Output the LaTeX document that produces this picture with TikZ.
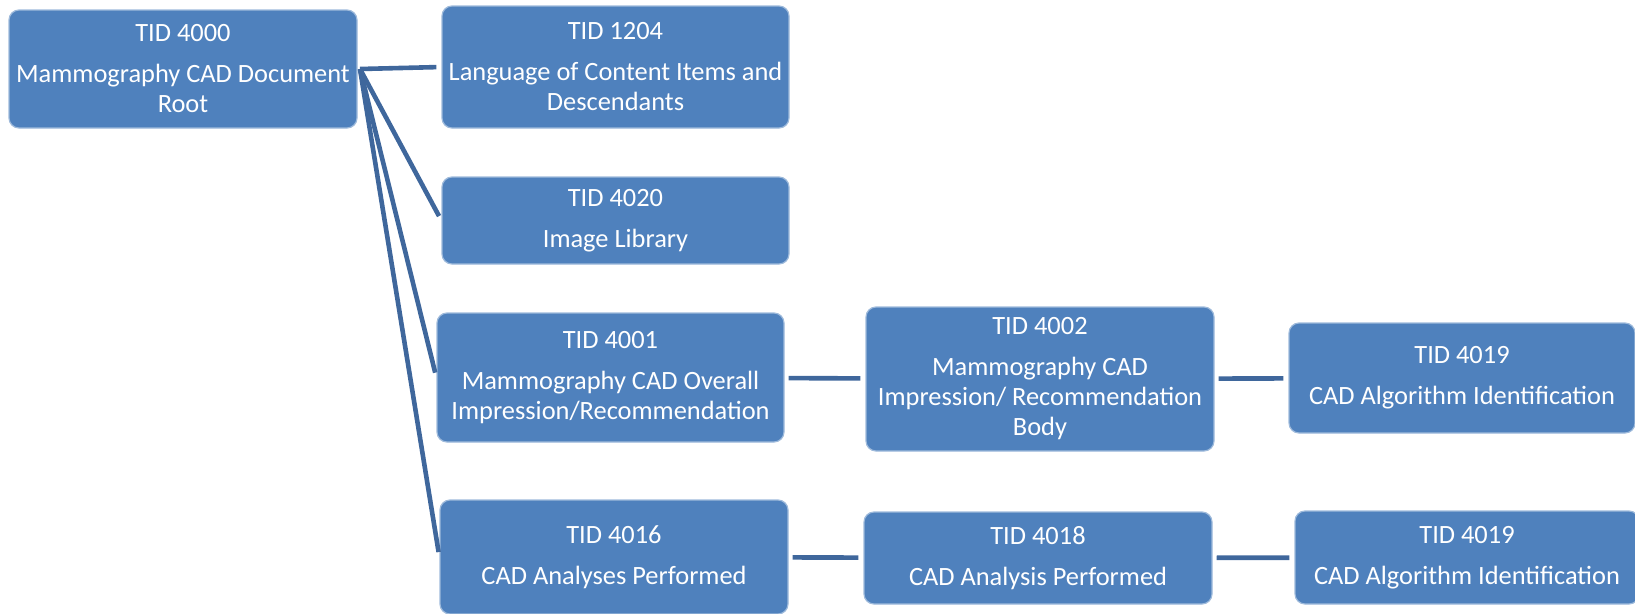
\documentclass[tikz,border=0pt]{standalone}
\usepackage{fontspec}
\setmainfont{Carlito}
\usetikzlibrary{positioning}
\definecolor{boxblue}{HTML}{4F81BD}
\definecolor{linkblue}{HTML}{3F679C}
\tikzset{
  tidbox/.style={rectangle, rounded corners=10pt, fill=boxblue, draw=boxblue!55!white,
    line width=1.2pt, text=white, align=center, inner sep=0pt,
    font=\fontsize{26.4}{30}\selectfont},
  link/.style={draw=linkblue, line width=4.6pt, shorten >=5pt, shorten <=4pt}
}
\begin{document}
\begin{tikzpicture}[x=1pt,y=-1pt]
\useasboundingbox (0,0) rectangle (1635,613);
\clip (0,0) rectangle (1635,613);

% Wurzel
\node[tidbox, minimum width=348pt, minimum height=118pt] (t4000) at (183,69)
  {TID 4000\\[11pt]Mammography CAD Document\\Root};
\coordinate (fan) at (360,69);

% erste Ebene
\node[tidbox, minimum width=347pt, minimum height=122pt] (t1204) at (615.5,67)
  {TID 1204\\[11pt]Language of Content Items and\\Descendants};
\node[tidbox, minimum width=347pt, minimum height=87pt] (t4020) at (615.5,220.5)
  {TID 4020\\[11pt]Image Library};
\node[tidbox, minimum width=347pt, minimum height=129pt] (t4001) at (610.5,377.5)
  {TID 4001\\[11pt]Mammography CAD Overall\\Impression/Recommendation};
\node[tidbox, minimum width=348pt, minimum height=114pt] (t4016) at (614,557)
  {TID 4016\\[11pt]CAD Analyses Performed};

% zweite Ebene
\node[tidbox, minimum width=348pt, minimum height=144pt] (t4002) at (1040,379)
  {TID 4002\\[11pt]Mammography CAD\\Impression/ Recommendation\\Body};
\node[tidbox, minimum width=348pt, minimum height=92pt] (t4018) at (1038,558)
  {TID 4018\\[11pt]CAD Analysis Performed};

% dritte Ebene
\node[tidbox, minimum width=346pt, minimum height=110pt] (t4019a) at (1462,378)
  {TID 4019\\[11pt]CAD Algorithm Identification};
\node[tidbox, minimum width=344pt, minimum height=93pt] (t4019b) at (1467,557.5)
  {TID 4019\\[11pt]CAD Algorithm Identification};

% Verbindungen
\foreach \kid in {t1204,t4020,t4001,t4016}
  \draw[link, shorten <=0pt] (fan) -- (\kid.west);
\draw[link] (t4001) -- (t4002);
\draw[link] (t4002) -- (t4019a);
\draw[link] (t4016) -- (t4018);
\draw[link] (t4018) -- (t4019b);

\end{tikzpicture}
\end{document}
